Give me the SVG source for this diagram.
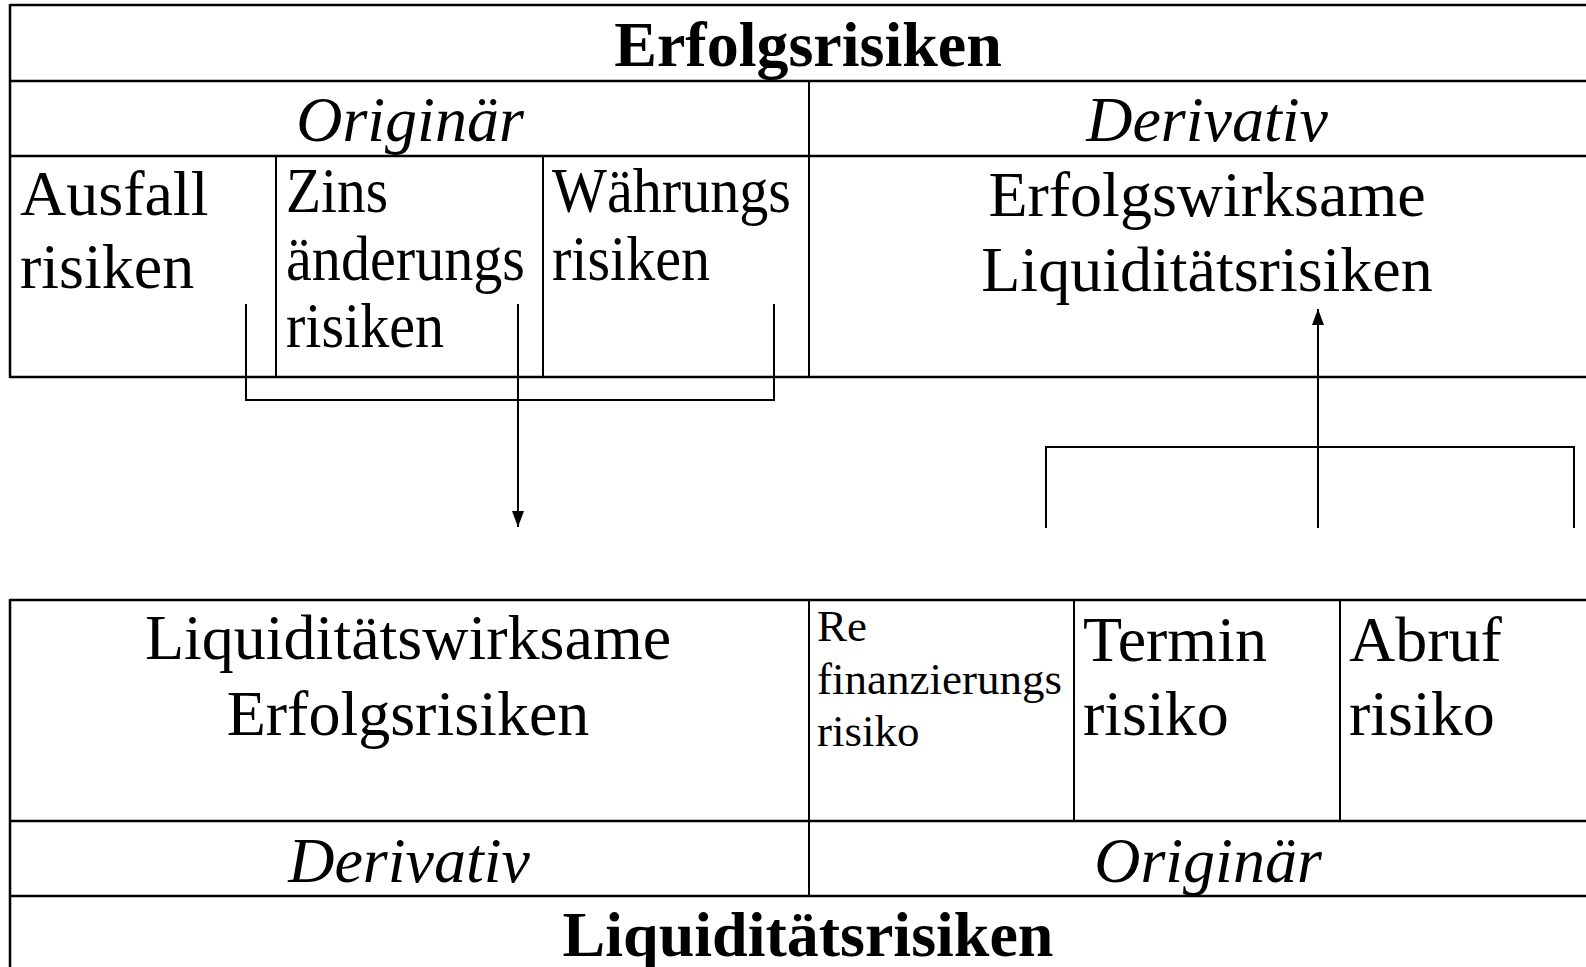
<svg xmlns="http://www.w3.org/2000/svg" width="1586" height="967" viewBox="0 0 1586 967">
  <style>
    .rule { stroke: #000; stroke-width: 2.5; fill: none; }
    .div { stroke: #000; stroke-width: 2; fill: none; }
    .conn { stroke: #000; stroke-width: 2; fill: none; }
    text { font-family: "Liberation Serif", "Times New Roman", serif; fill: #000; }
    .t { font-size: 64px; }
    .small { font-size: 45px; }
    .b { font-size: 64px; font-weight: bold; }
    .i { font-size: 64px; font-style: italic; }
    .mid { text-anchor: middle; }
  </style>
  <defs>
    <marker id="arrow" markerUnits="userSpaceOnUse" markerWidth="16" markerHeight="12" refX="16" refY="6" orient="auto" viewBox="0 0 16 12">
      <path d="M0,0 L16,6 L0,12 Z" fill="#000"/>
    </marker>
  </defs>

  <rect width="1586" height="967" fill="#fff"/>

  <!-- upper table: Erfolgsrisiken -->
  <g id="upper-table">
    <line class="rule" x1="10" y1="5" x2="1586" y2="5"/>
    <line class="rule" x1="10" y1="81" x2="1586" y2="81"/>
    <line class="rule" x1="10" y1="156" x2="1586" y2="156"/>
    <line class="rule" x1="10" y1="377" x2="1586" y2="377"/>
    <line class="rule" x1="10" y1="4" x2="10" y2="378"/>
    <line class="div" x1="809" y1="81" x2="809" y2="377"/>
    <line class="div" x1="276" y1="156" x2="276" y2="377"/>
    <line class="div" x1="543" y1="156" x2="543" y2="377"/>
  </g>
  <g id="erfolgsrisiken">
    <text class="b mid" x="808" y="66">Erfolgsrisiken</text>
  </g>
  <g id="originaer-oben">
    <text class="i mid" x="410" y="141">Originär</text>
  </g>
  <g id="derivativ-oben">
    <text class="i mid" x="1207" y="141">Derivativ</text>
  </g>
  <g id="ausfallrisiken">
    <text class="t" x="20" y="215">Ausfall</text>
    <text class="t" x="20" y="288">risiken</text>
  </g>
  <g id="zinsaenderungsrisiken">
    <text class="t" x="286" y="212" textLength="102" lengthAdjust="spacingAndGlyphs">Zins</text>
    <text class="t" x="286" y="280" textLength="239" lengthAdjust="spacingAndGlyphs">änderungs</text>
    <text class="t" x="286" y="347" textLength="158" lengthAdjust="spacingAndGlyphs">risiken</text>
  </g>
  <g id="waehrungsrisiken">
    <text class="t" x="552" y="212" textLength="239" lengthAdjust="spacingAndGlyphs">Währungs</text>
    <text class="t" x="552" y="280" textLength="158" lengthAdjust="spacingAndGlyphs">risiken</text>
  </g>
  <g id="erfolgswirksame-liquiditaetsrisiken">
    <text class="t mid" x="1207" y="216">Erfolgswirksame</text>
    <text class="t mid" x="1207" y="291">Liquiditätsrisiken</text>
  </g>

  <!-- lower table: Liquiditätsrisiken -->
  <g id="lower-table">
    <line class="rule" x1="10" y1="600" x2="1586" y2="600"/>
    <line class="rule" x1="10" y1="821" x2="1586" y2="821"/>
    <line class="rule" x1="10" y1="896" x2="1586" y2="896"/>
    <line class="rule" x1="10" y1="599" x2="10" y2="967"/>
    <line class="div" x1="809" y1="600" x2="809" y2="896"/>
    <line class="div" x1="1074" y1="600" x2="1074" y2="821"/>
    <line class="div" x1="1340" y1="600" x2="1340" y2="821"/>
  </g>
  <g id="liquiditaetswirksame-erfolgsrisiken">
    <text class="t mid" x="408" y="659">Liquiditätswirksame</text>
    <text class="t mid" x="408" y="735">Erfolgsrisiken</text>
  </g>
  <g id="refinanzierungsrisiko">
    <text class="small" x="817" y="641">Re</text>
    <text class="small" x="817" y="694">finanzierungs</text>
    <text class="small" x="817" y="746">risiko</text>
  </g>
  <g id="terminrisiko">
    <text class="t" x="1083" y="661">Termin</text>
    <text class="t" x="1083" y="735">risiko</text>
  </g>
  <g id="abrufrisiko">
    <text class="t" x="1349" y="661">Abruf</text>
    <text class="t" x="1349" y="735">risiko</text>
  </g>
  <g id="derivativ-unten">
    <text class="i mid" x="409" y="882">Derivativ</text>
  </g>
  <g id="originaer-unten">
    <text class="i mid" x="1208" y="882">Originär</text>
  </g>
  <g id="liquiditaetsrisiken">
    <text class="b mid" x="808" y="956">Liquiditätsrisiken</text>
  </g>

  <!-- connectors -->
  <g id="connectors">
    <polyline class="conn" points="246,304 246,400 774,400 774,304"/>
    <line class="conn" x1="518" y1="304" x2="518" y2="527" marker-end="url(#arrow)"/>
    <polyline class="conn" points="1046,528 1046,447 1574,447 1574,528"/>
    <line class="conn" x1="1318" y1="528" x2="1318" y2="309" marker-end="url(#arrow)"/>
  </g>
</svg>
